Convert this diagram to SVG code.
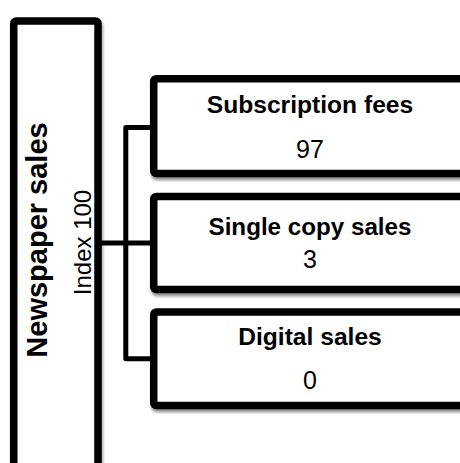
<svg xmlns="http://www.w3.org/2000/svg" width="460" height="463" viewBox="0 0 460 463">
  <defs>
    <filter id="shadow" x="-10%" y="-10%" width="130%" height="130%">
      <feDropShadow dx="1" dy="3" stdDeviation="1.6" flood-color="#000" flood-opacity="0.45"/>
    </filter>
    <style>
      .box { fill: #fff; stroke: #000; stroke-width: 7.5; filter: url(#shadow); }
      .title { font-family: "Liberation Sans", Arial, sans-serif; font-weight: bold; fill: #000; }
      .value { font-family: "Liberation Sans", Arial, sans-serif; fill: #000; }
      .link { fill: none; stroke: #000; stroke-width: 5; stroke-linejoin: round; }
    </style>
  </defs>

  <rect width="460" height="463" fill="#fff"/>

  <!-- connectors -->
  <g id="connectors">
    <path class="link" d="M100,243 H152"/>
    <path class="link" d="M152,127.5 H125.8 V358.8 H152"/>
  </g>

  <!-- root node, text rotated to read bottom-up -->
  <g id="node-newspaper-sales">
    <rect class="box" x="13.75" y="21" width="84.25" height="460" rx="2.5"/>
    <text class="title" font-size="29" text-anchor="middle" transform="translate(46.5,240) rotate(-90)">Newspaper sales</text>
    <text class="value" font-size="24" text-anchor="middle" transform="translate(90.5,242.5) rotate(-90)">Index 100</text>
  </g>

  <g id="node-subscription-fees">
    <rect class="box" x="153.75" y="78.75" width="320" height="94.85" rx="2.5"/>
    <text class="title" font-size="24.6" x="310" y="112.7" text-anchor="middle">Subscription fees</text>
    <text class="value" font-size="25" x="310" y="157.7" text-anchor="middle">97</text>
  </g>

  <g id="node-single-copy-sales">
    <rect class="box" x="153.75" y="196.4" width="320" height="93.2" rx="2.5"/>
    <text class="title" font-size="24.2" x="310" y="235" text-anchor="middle">Single copy sales</text>
    <text class="value" font-size="25" x="310" y="268.3" text-anchor="middle">3</text>
  </g>

  <g id="node-digital-sales">
    <rect class="box" x="153.75" y="312" width="320" height="93.6" rx="2.5"/>
    <text class="title" font-size="24.6" x="310" y="345" text-anchor="middle">Digital sales</text>
    <text class="value" font-size="25" x="310" y="389.3" text-anchor="middle">0</text>
  </g>
</svg>
